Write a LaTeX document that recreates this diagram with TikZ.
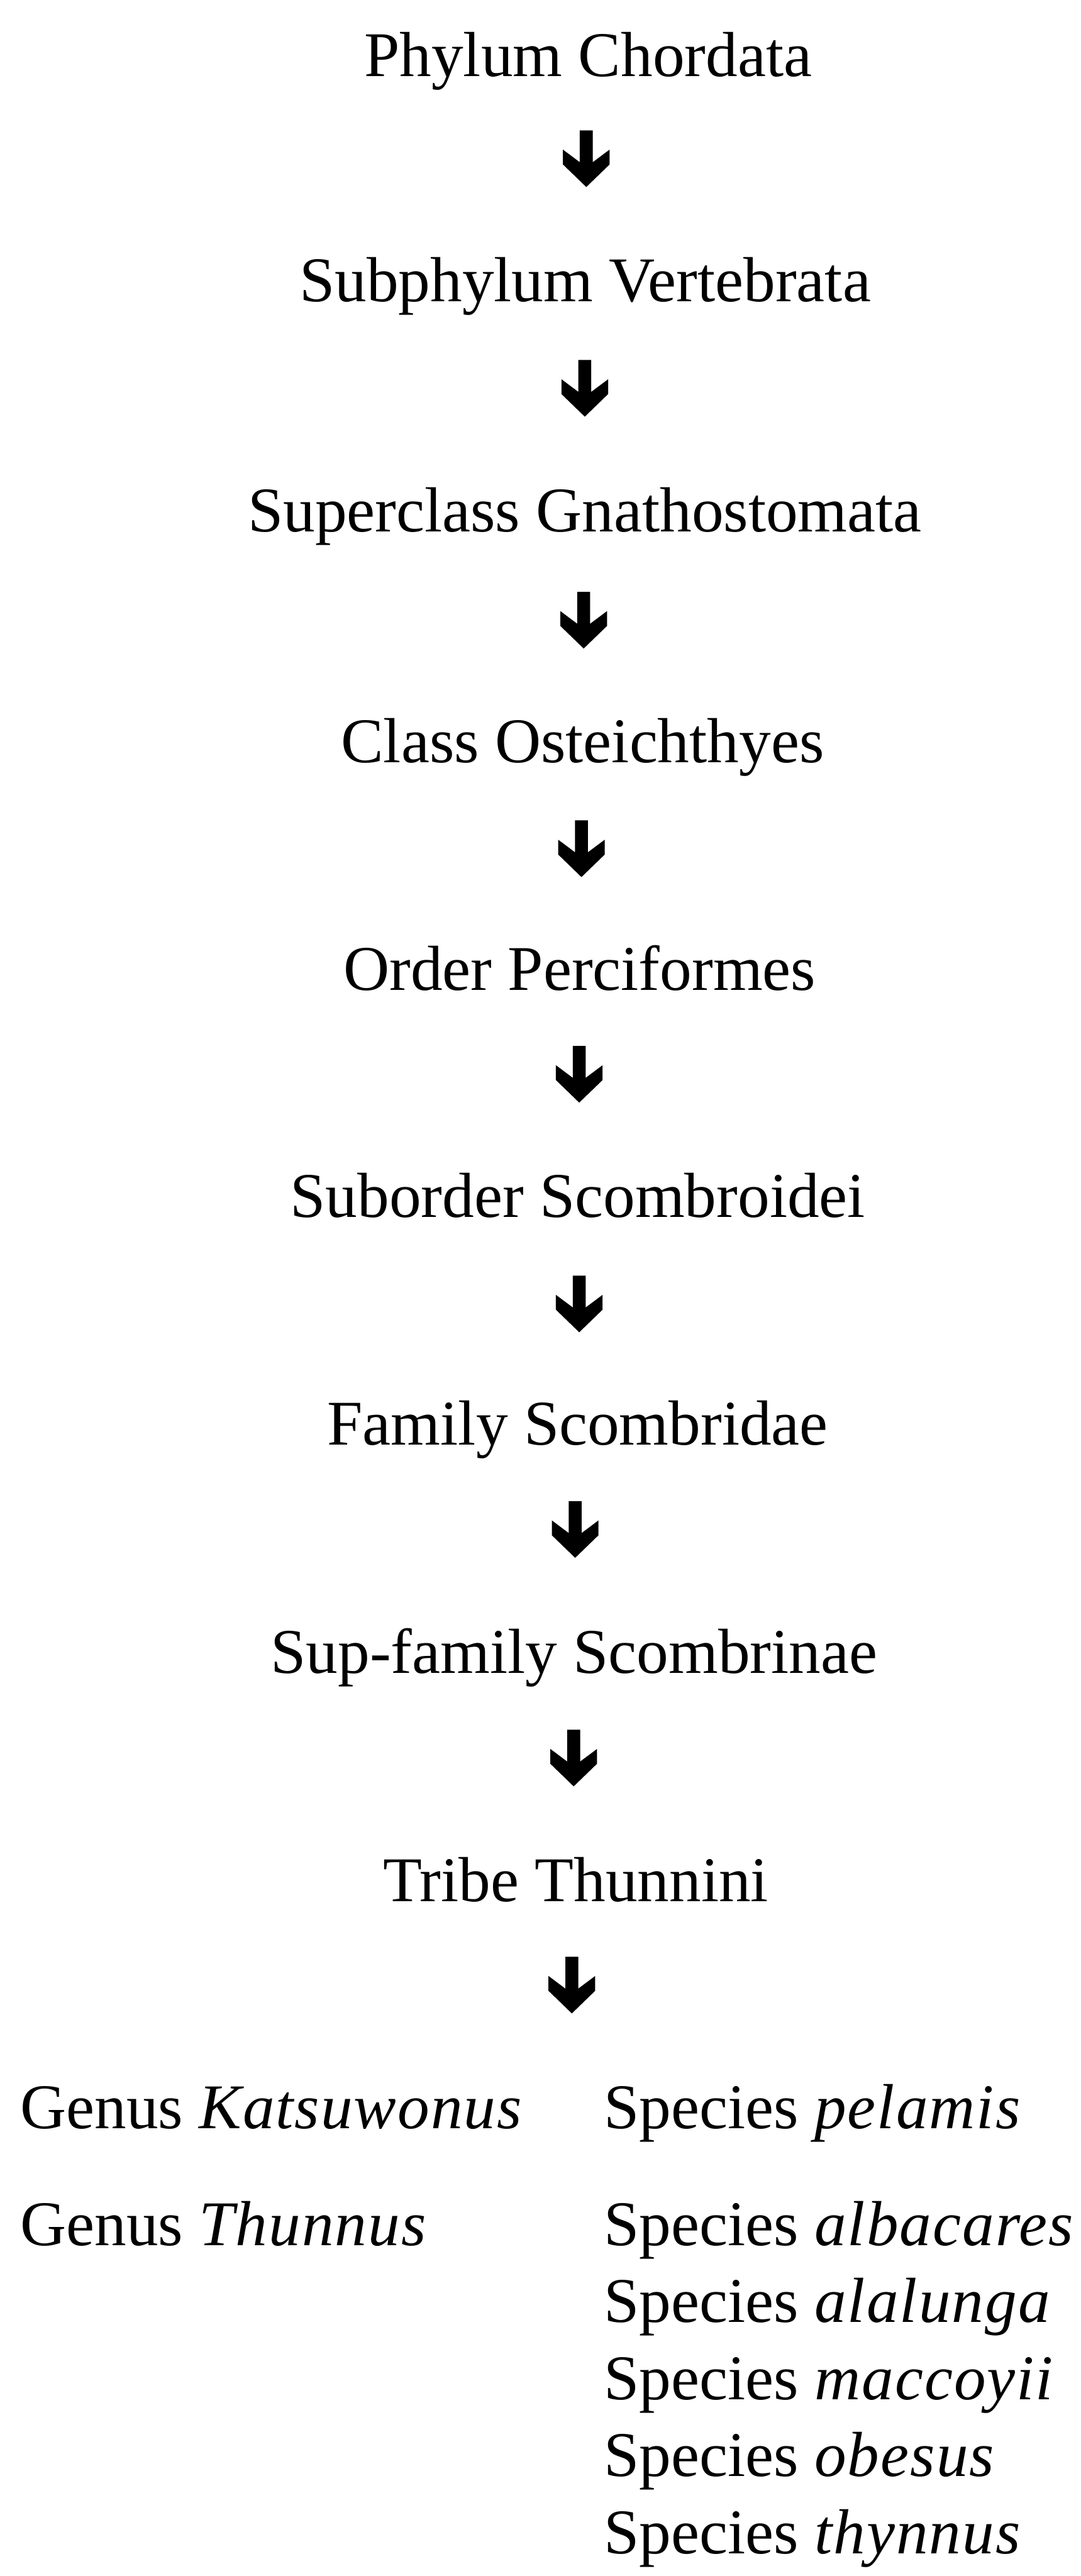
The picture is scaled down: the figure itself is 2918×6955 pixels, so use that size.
\documentclass[tikz,border=0pt]{standalone}
\usepackage{fontspec}
\setmainfont{Liberation Serif}[ItalicFeatures={LetterSpace=2}]
\begin{document}
\begin{tikzpicture}[x=0.1pt,y=-0.1pt,
  lbl/.style={inner sep=0pt, outer sep=0pt, anchor=base, font=\fontsize{17.2pt}{20pt}\selectfont},
  lbll/.style={lbl, anchor=base west},
  fatarrow/.pic={\fill[black] (0,0) -- (63,-61) -- (63,-101) -- (17.5,-67) -- (17.5,-153) -- (-17.5,-153) -- (-17.5,-67) -- (-63,-101) -- (-63,-61) -- cycle;}]
\useasboundingbox (0,0) rectangle (2918,6955);
\node[lbl] (n1) at (1588,207) {Phylum Chordata};
\node[lbl] (n2) at (1580,815) {Subphylum Vertebrata};
\node[lbl] (n3) at (1579,1435) {Superclass Gnathostomata};
\node[lbl] (n4) at (1573,2058) {Class Osteichthyes};
\node[lbl] (n5) at (1565,2673) {Order Perciformes};
\node[lbl] (n6) at (1560,3287) {Suborder Scombroidei};
\node[lbl] (n7) at (1560,3901) {Family Scombridae};
\node[lbl] (n8) at (1550,4518) {Sup-family Scombrinae};
\node[lbl] (n9) at (1555,5133) {Tribe Thunnini};
\node[lbll] (gk) at (55,5746) {Genus \textit{Katsuwonus}};
\node[lbll] (gt) at (55,6062) {Genus \textit{Thunnus}};
\node[lbll] (s1) at (1631,5746) {Species \textit{pelamis}};
\node[lbll] (s2) at (1631,6062) {Species \textit{albacares}};
\node[lbll] (s3) at (1631,6270) {Species \textit{alalunga}};
\node[lbll] (s4) at (1631,6478) {Species \textit{maccoyii}};
\node[lbll] (s5) at (1631,6686) {Species \textit{obesus}};
\node[lbll] (s6) at (1631,6894) {Species \textit{thynnus}};
\pic at (1583,505) {fatarrow};
\pic at (1579,1125) {fatarrow};
\pic at (1576,1751) {fatarrow};
\pic at (1570,2368) {fatarrow};
\pic at (1564,2977) {fatarrow};
\pic at (1564,3597) {fatarrow};
\pic at (1553,4206) {fatarrow};
\pic at (1549,4823) {fatarrow};
\pic at (1544,5436) {fatarrow};
\end{tikzpicture}
\end{document}
